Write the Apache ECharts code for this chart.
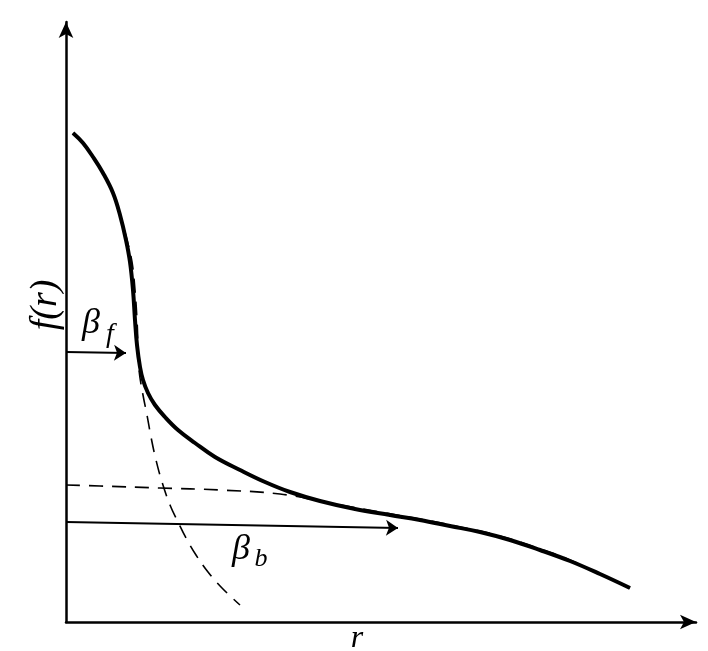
<!DOCTYPE html>
<html><head><meta charset="utf-8">
<script src="https://cdn.jsdelivr.net/npm/echarts@6/dist/echarts.min.js"></script>
<style>html,body{margin:0;padding:0;background:#fff}#c{width:708px;height:651px}</style>
</head><body><div id="c"></div>
<script>
// total distribution f(r)
const solidCurve = [[7,489],[17,479],[27,465],[37,449],[47,429],[54,407],[60,382],[64,360],[67,332],[69,302],[71,277],[74,255],[77,242],[82,229],[89,217],[99,205],[112,192],[129,179],[149,165],[174,152],[199,140],[224,130],[254,121],[289,113],[324,107],[354,102],[384,96],[414,90],[444,82],[474,72],[504,61],[534,48],[564,34]];
// free (front) component
const frontDashed = [[7,489],[17,479],[27,465],[37,449],[47,429],[54,407],[61,382],[66,360],[69,332],[71,302],[72,277],[73,252],[77,227],[81,207],[85,185],[90,162],[96,140],[104,117],[112,100],[120,84],[130,67],[142,50],[156,34],[174,17]];
// bound (back) component
const backDashed = [[0,137],[34,136],[94,134],[154,132],[214,128],[264,119],[314,110],[354,103],[394,95],[434,86],[474,73],[504,62],[534,48],[564,34]];
// arrows
const betaFArrow = [[0,270],[60,269]];
const betaBArrow = [[0,100],[332,94]];

const chart = echarts.init(document.getElementById('c'));
const fontFam = '"Liberation Serif", "DejaVu Serif", serif';
chart.setOption({
  animation: false,
  backgroundColor: '#fff',
  grid: {left: 66, top: 22, right: 12, bottom: 29},
  xAxis: {type: 'value', min: 0, max: 630,
    axisLine: {show: true, lineStyle: {color: '#000', width: 2.5}, symbol: ['none','arrow'], symbolSize: [11,16]},
    axisTick: {show: false}, axisLabel: {show: false}, splitLine: {show: false}},
  yAxis: {type: 'value', min: 0, max: 600,
    axisLine: {show: true, lineStyle: {color: '#000', width: 2.5}, symbol: ['none','arrow'], symbolSize: [11,16]},
    axisTick: {show: false}, axisLabel: {show: false}, splitLine: {show: false}},
  series: [
    {type: 'line', data: backDashed, smooth: 0.4, symbol: 'none',
      lineStyle: {color: '#000', width: 1.6, type: [14, 9]}},
    {type: 'line', data: frontDashed, smooth: 0.4, symbol: 'none',
      lineStyle: {color: '#000', width: 1.6, type: [14, 9]}},
    {type: 'line', data: solidCurve, smooth: 0.4, symbol: 'none',
      lineStyle: {color: '#000', width: 4}},
    {type: 'lines', coordinateSystem: 'cartesian2d', symbol: ['none','arrow'], symbolSize: 12,
      lineStyle: {color: '#000', width: 2, opacity: 1},
      data: [{coords: betaFArrow}, {coords: betaBArrow}]}
  ],
  graphic: [
    {type: 'text', x: 46, y: 305, rotation: Math.PI/2,
      style: {text: 'f(r)', font: 'italic 38px ' + fontFam, fill: '#000', textAlign: 'center', textVerticalAlign: 'middle'}},
    {type: 'text', x: 91, y: 324,
      style: {text: 'β', font: 'italic 36px ' + fontFam, fill: '#000', textAlign: 'center', textVerticalAlign: 'middle'}},
    {type: 'text', x: 110, y: 335,
      style: {text: 'f', font: 'italic 28px ' + fontFam, fill: '#000', textAlign: 'center', textVerticalAlign: 'middle'}},
    {type: 'text', x: 241, y: 550,
      style: {text: 'β', font: 'italic 36px ' + fontFam, fill: '#000', textAlign: 'center', textVerticalAlign: 'middle'}},
    {type: 'text', x: 261, y: 559,
      style: {text: 'b', font: 'italic 26px ' + fontFam, fill: '#000', textAlign: 'center', textVerticalAlign: 'middle'}},
    {type: 'text', x: 357, y: 639,
      style: {text: 'r', font: 'italic 32px ' + fontFam, fill: '#000', textAlign: 'center', textVerticalAlign: 'middle'}}
  ]
});
</script></body></html>
